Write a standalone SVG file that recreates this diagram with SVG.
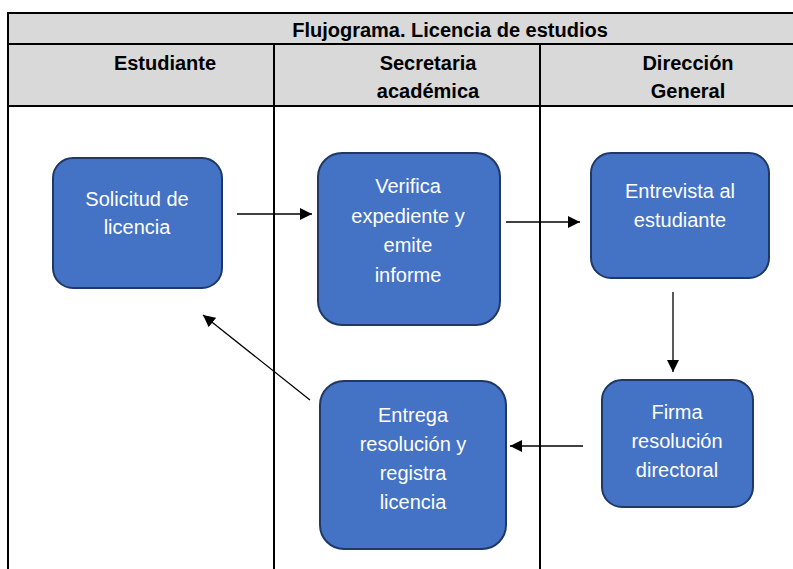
<svg xmlns="http://www.w3.org/2000/svg" width="793" height="569" viewBox="0 0 793 569">
<style>
.hdr{fill:#d9d9d9}
.grid{stroke:#000;stroke-width:2;fill:none}
.ht{font-family:"Liberation Sans",Arial,sans-serif;font-weight:bold;font-size:20px;fill:#000;text-anchor:middle}
.box{fill:#4472c4;stroke:#1f3864;stroke-width:2}
.nt{font-family:"Liberation Sans",Arial,sans-serif;font-size:20px;fill:#fff;text-anchor:middle}
.conn line{stroke:#000;stroke-width:1.3;marker-end:url(#ah)}
</style>
<defs>
<marker id="ah" viewBox="0 0 10 10" refX="10" refY="5" markerWidth="12" markerHeight="12" markerUnits="userSpaceOnUse" orient="auto">
<path d="M0,0 L10,5 L0,10 z" fill="#000"/>
</marker>
</defs>
<rect width="793" height="569" fill="#fff"/>
<g id="table">
<rect class="hdr" x="8" y="13" width="800" height="93"/>
<line class="grid" x1="8" y1="13" x2="800" y2="13"/>
<line class="grid" x1="8" y1="44" x2="800" y2="44"/>
<line class="grid" x1="8" y1="106" x2="800" y2="106"/>
<line class="grid" x1="8" y1="12" x2="8" y2="569"/>
<line class="grid" x1="274" y1="44" x2="274" y2="569"/>
<line class="grid" x1="540" y1="44" x2="540" y2="569"/>
<text class="ht" x="450" y="37">Flujograma. Licencia de estudios</text>
<text class="ht" x="165" y="70">Estudiante</text>
<text class="ht" x="428" y="70">Secretaria</text>
<text class="ht" x="428" y="98">académica</text>
<text class="ht" x="688" y="70">Dirección</text>
<text class="ht" x="688" y="98">General</text>
</g>
<g id="n1">
<rect class="box" x="53" y="158" width="169" height="130" rx="20"/>
<text class="nt" x="137" y="206">Solicitud de</text>
<text class="nt" x="137" y="234">licencia</text>
</g>
<g id="n2">
<rect class="box" x="318" y="153" width="182" height="172" rx="24"/>
<text class="nt" x="408" y="193">Verifica</text>
<text class="nt" x="408" y="223">expediente y</text>
<text class="nt" x="408" y="252">emite</text>
<text class="nt" x="408" y="282">informe</text>
</g>
<g id="n3">
<rect class="box" x="591" y="153" width="178" height="125" rx="20"/>
<text class="nt" x="680" y="198">Entrevista al</text>
<text class="nt" x="680" y="227">estudiante</text>
</g>
<g id="n4">
<rect class="box" x="602" y="380" width="151" height="127" rx="20"/>
<text class="nt" x="677" y="419">Firma</text>
<text class="nt" x="677" y="448">resolución</text>
<text class="nt" x="677" y="477">directoral</text>
</g>
<g id="n5">
<rect class="box" x="320" y="381" width="186" height="168" rx="24"/>
<text class="nt" x="413" y="422">Entrega</text>
<text class="nt" x="413" y="451">resolución y</text>
<text class="nt" x="413" y="480">registra</text>
<text class="nt" x="413" y="509">licencia</text>
</g>
<g id="connectors" class="conn">
<line x1="237" y1="214" x2="312" y2="214"/>
<line x1="506" y1="222" x2="580" y2="222"/>
<line x1="673" y1="292" x2="673" y2="372"/>
<line x1="583" y1="446" x2="510" y2="446"/>
<line x1="310" y1="400" x2="203" y2="315"/>
</g>
</svg>
